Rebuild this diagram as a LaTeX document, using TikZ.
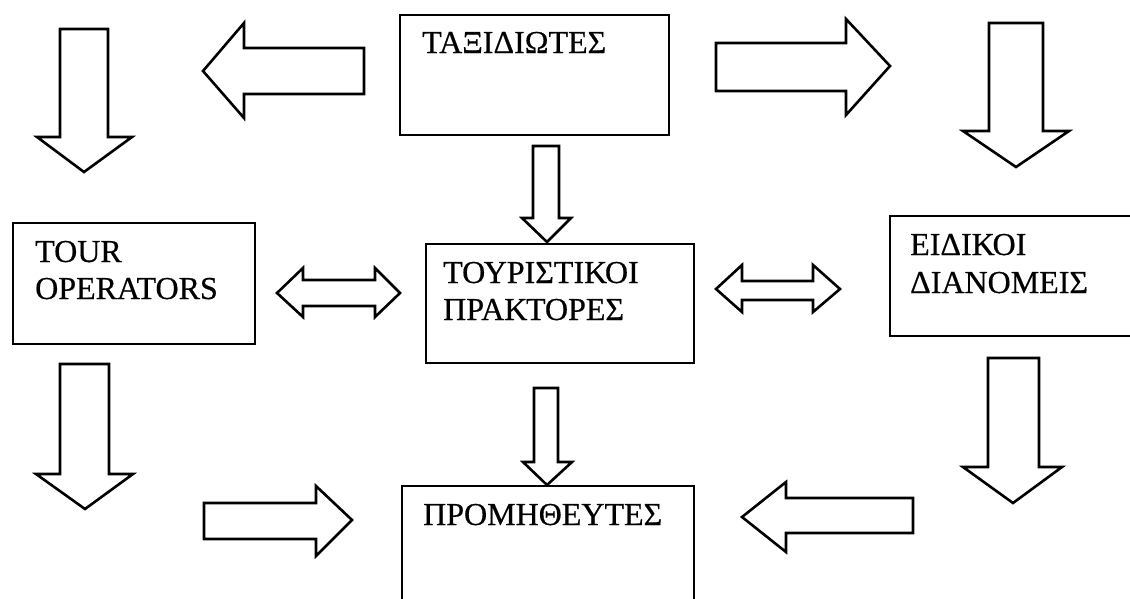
\documentclass[tikz,border=0pt]{standalone}
\usepackage{fontspec}
\setmainfont{Liberation Serif}
\newfontfamily\lblfont[FakeBold=0.5]{Liberation Serif}
\begin{document}
\begin{tikzpicture}[x=1pt,y=-1pt,
  box/.style={draw, line width=2.2pt, inner sep=0pt, anchor=north west},
  lbl/.style={anchor=base west, inner sep=0pt, font=\lblfont\fontsize{32}{37}\selectfont},
  blk/.style={draw, line width=2.6pt, line join=miter, miter limit=10}]
\useasboundingbox (0,0) rectangle (1130,598);
\clip (0,0) rectangle (1130,598);
% boxes
\node[box, minimum width=269pt, minimum height=120pt] (tax) at (399,14) {};
\node[box, minimum width=242pt, minimum height=121pt] (tour) at (12,222) {};
\node[box, minimum width=268pt, minimum height=119pt] (tur) at (425,243) {};
\node[box, minimum width=260pt, minimum height=120pt] (eid) at (889,215) {};
\node[box, minimum width=292pt, minimum height=130pt] (prom) at (401,485) {};
% labels
\node[lbl] (taxt) at (422,53) {ΤΑΞΙΔΙΩΤΕΣ};
\node[lbl] (tourt1) at (35,262) {TOUR};
\node[lbl] (tourt2) at (35,299) {OPERATORS};
\node[lbl] (turt1) at (443,283) {ΤΟΥΡΙΣΤΙΚΟΙ};
\node[lbl] (turt2) at (443,320) {ΠΡΑΚΤΟΡΕΣ};
\node[lbl] (eidt1) at (910,255) {ΕΙΔΙΚΟΙ};
\node[lbl] (eidt2) at (910,293) {ΔΙΑΝΟΜΕΙΣ};
\node[lbl] (promt) at (423,525) {ΠΡΟΜΗΘΕΥΤΕΣ};
% block arrows
\draw[blk] (60,29)--(108,29)--(108,137)--(132,137)--(84,172)--(37,137)--(60,137)--cycle;
\draw[blk] (364,48)--(244,48)--(244,23)--(203,71)--(244,118)--(244,94)--(364,94)--cycle;
\draw[blk] (716,43)--(846,43)--(846,19)--(890,66)--(846,115)--(846,91)--(716,91)--cycle;
\draw[blk] (989,23)--(1043,23)--(1043,131)--(1069,131)--(1016,167)--(963,131)--(989,131)--cycle;
\draw[blk] (533,146)--(559,146)--(559,218)--(571,218)--(547,242)--(522,218)--(533,218)--cycle;
\draw[blk] (277,293)--(303,268)--(303,280)--(375,280)--(375,268)--(400,293)--(375,317)--(375,306)--(303,306)--(303,317)--cycle;
\draw[blk] (716,289)--(742,265)--(742,281)--(813,281)--(813,265)--(840,289)--(813,312)--(813,300)--(742,300)--(742,312)--cycle;
\draw[blk] (60,364)--(109,364)--(109,474)--(133,474)--(85,509)--(36,474)--(60,474)--cycle;
\draw[blk] (204,503)--(316,503)--(316,486)--(352,520)--(316,556)--(316,539)--(204,539)--cycle;
\draw[blk] (534,388)--(558,388)--(558,462)--(572,462)--(547,485)--(523,462)--(534,462)--cycle;
\draw[blk] (988,358)--(1039,358)--(1039,467)--(1062,467)--(1013,503)--(963,467)--(988,467)--cycle;
\draw[blk] (913,498)--(786,498)--(786,482)--(742,517)--(786,552)--(786,533)--(913,533)--cycle;
\end{tikzpicture}
\end{document}
